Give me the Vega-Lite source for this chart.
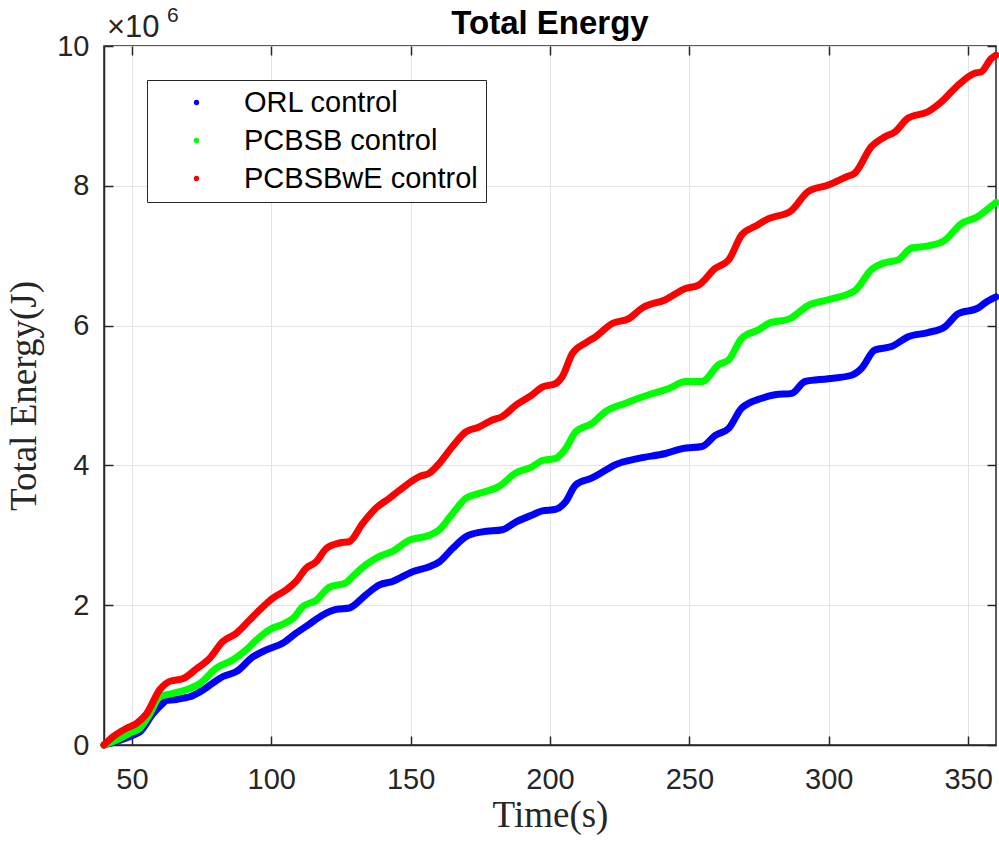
{
  "$schema": "https://vega.github.io/schema/vega-lite/v6.json",
  "autosize": "none",
  "width": 892,
  "height": 699,
  "padding": {"left": 104, "top": 46, "right": 3, "bottom": 96},
  "background": "white",
  "title": {"text": "Total Energy", "font": "Liberation Sans", "fontSize": 33, "fontWeight": "bold", "color": "#000000", "anchor": "middle", "offset": -36},
  "config": {
    "view": {"stroke": "#262626", "strokeWidth": 1.5},
    "axis": {"domainColor": "#262626", "domainWidth": 1.5, "tickColor": "#262626", "tickWidth": 1.5, "gridColor": "#e3e3e3", "gridWidth": 1, "labelFont": "Liberation Sans", "labelFontSize": 29, "labelColor": "#262626", "titleFont": "Liberation Serif", "titleFontSize": 37, "titleFontWeight": "normal", "titleColor": "#262626"}
  },
  "datasets": {
    "energy": [
      {"t": 40, "s": "ORL control", "E": 0}, {"t": 44.5, "s": "ORL control", "E": 0.05}, {"t": 50.5, "s": "ORL control", "E": 0.14}, {"t": 52.9, "s": "ORL control", "E": 0.19}, {"t": 57.6, "s": "ORL control", "E": 0.45}, {"t": 61.2, "s": "ORL control", "E": 0.6}, {"t": 62.4, "s": "ORL control", "E": 0.64}, {"t": 66, "s": "ORL control", "E": 0.65}, {"t": 68.4, "s": "ORL control", "E": 0.67}, {"t": 70.8, "s": "ORL control", "E": 0.69}, {"t": 74.4, "s": "ORL control", "E": 0.76}, {"t": 78.5, "s": "ORL control", "E": 0.87}, {"t": 82.7, "s": "ORL control", "E": 0.98}, {"t": 87.5, "s": "ORL control", "E": 1.05}, {"t": 93.4, "s": "ORL control", "E": 1.26}, {"t": 98.2, "s": "ORL control", "E": 1.36}, {"t": 104.2, "s": "ORL control", "E": 1.46}, {"t": 108.9, "s": "ORL control", "E": 1.6}, {"t": 113.7, "s": "ORL control", "E": 1.73}, {"t": 118.5, "s": "ORL control", "E": 1.86}, {"t": 123.3, "s": "ORL control", "E": 1.94}, {"t": 128, "s": "ORL control", "E": 1.96}, {"t": 134, "s": "ORL control", "E": 2.15}, {"t": 138.8, "s": "ORL control", "E": 2.29}, {"t": 143.5, "s": "ORL control", "E": 2.34}, {"t": 150.7, "s": "ORL control", "E": 2.48}, {"t": 156.7, "s": "ORL control", "E": 2.55}, {"t": 160.3, "s": "ORL control", "E": 2.62}, {"t": 165, "s": "ORL control", "E": 2.81}, {"t": 169.8, "s": "ORL control", "E": 2.98}, {"t": 175.7, "s": "ORL control", "E": 3.05}, {"t": 182.9, "s": "ORL control", "E": 3.08}, {"t": 187.7, "s": "ORL control", "E": 3.19}, {"t": 193.6, "s": "ORL control", "E": 3.29}, {"t": 197.2, "s": "ORL control", "E": 3.35}, {"t": 202, "s": "ORL control", "E": 3.37}, {"t": 205.6, "s": "ORL control", "E": 3.48}, {"t": 209.2, "s": "ORL control", "E": 3.72}, {"t": 215.1, "s": "ORL control", "E": 3.82}, {"t": 219.9, "s": "ORL control", "E": 3.93}, {"t": 223.5, "s": "ORL control", "E": 4.01}, {"t": 231.8, "s": "ORL control", "E": 4.1}, {"t": 241.4, "s": "ORL control", "E": 4.17}, {"t": 247.4, "s": "ORL control", "E": 4.24}, {"t": 254.5, "s": "ORL control", "E": 4.27}, {"t": 259.3, "s": "ORL control", "E": 4.43}, {"t": 264.1, "s": "ORL control", "E": 4.53}, {"t": 268.8, "s": "ORL control", "E": 4.82}, {"t": 276, "s": "ORL control", "E": 4.96}, {"t": 280.7, "s": "ORL control", "E": 5.01}, {"t": 286.7, "s": "ORL control", "E": 5.03}, {"t": 291.5, "s": "ORL control", "E": 5.2}, {"t": 299.8, "s": "ORL control", "E": 5.24}, {"t": 308.2, "s": "ORL control", "E": 5.29}, {"t": 311.8, "s": "ORL control", "E": 5.39}, {"t": 316.5, "s": "ORL control", "E": 5.65}, {"t": 322.5, "s": "ORL control", "E": 5.7}, {"t": 328.5, "s": "ORL control", "E": 5.84}, {"t": 335.6, "s": "ORL control", "E": 5.9}, {"t": 341.6, "s": "ORL control", "E": 5.98}, {"t": 346.4, "s": "ORL control", "E": 6.17}, {"t": 353.5, "s": "ORL control", "E": 6.25}, {"t": 355.9, "s": "ORL control", "E": 6.32}, {"t": 360, "s": "ORL control", "E": 6.41},
      {"t": 40, "s": "PCBSB control", "E": 0}, {"t": 44.5, "s": "PCBSB control", "E": 0.07}, {"t": 49.3, "s": "PCBSB control", "E": 0.17}, {"t": 52.9, "s": "PCBSB control", "E": 0.24}, {"t": 56.5, "s": "PCBSB control", "E": 0.45}, {"t": 60, "s": "PCBSB control", "E": 0.69}, {"t": 64.8, "s": "PCBSB control", "E": 0.74}, {"t": 69.6, "s": "PCBSB control", "E": 0.79}, {"t": 74.4, "s": "PCBSB control", "E": 0.88}, {"t": 80.3, "s": "PCBSB control", "E": 1.1}, {"t": 86.3, "s": "PCBSB control", "E": 1.22}, {"t": 91, "s": "PCBSB control", "E": 1.36}, {"t": 94.6, "s": "PCBSB control", "E": 1.5}, {"t": 99.4, "s": "PCBSB control", "E": 1.65}, {"t": 104.2, "s": "PCBSB control", "E": 1.73}, {"t": 107.8, "s": "PCBSB control", "E": 1.81}, {"t": 111.3, "s": "PCBSB control", "E": 1.98}, {"t": 116.1, "s": "PCBSB control", "E": 2.07}, {"t": 120.9, "s": "PCBSB control", "E": 2.26}, {"t": 126.8, "s": "PCBSB control", "E": 2.32}, {"t": 129.2, "s": "PCBSB control", "E": 2.41}, {"t": 134, "s": "PCBSB control", "E": 2.58}, {"t": 138.8, "s": "PCBSB control", "E": 2.7}, {"t": 143.5, "s": "PCBSB control", "E": 2.77}, {"t": 149.5, "s": "PCBSB control", "E": 2.93}, {"t": 156.7, "s": "PCBSB control", "E": 3.0}, {"t": 160.3, "s": "PCBSB control", "E": 3.08}, {"t": 165, "s": "PCBSB control", "E": 3.31}, {"t": 169.8, "s": "PCBSB control", "E": 3.53}, {"t": 174.6, "s": "PCBSB control", "E": 3.6}, {"t": 181.7, "s": "PCBSB control", "E": 3.7}, {"t": 187.7, "s": "PCBSB control", "E": 3.89}, {"t": 193.6, "s": "PCBSB control", "E": 3.98}, {"t": 197.2, "s": "PCBSB control", "E": 4.07}, {"t": 202, "s": "PCBSB control", "E": 4.1}, {"t": 205.6, "s": "PCBSB control", "E": 4.24}, {"t": 209.2, "s": "PCBSB control", "E": 4.48}, {"t": 215.1, "s": "PCBSB control", "E": 4.6}, {"t": 219.9, "s": "PCBSB control", "E": 4.77}, {"t": 227.1, "s": "PCBSB control", "E": 4.89}, {"t": 235.4, "s": "PCBSB control", "E": 5.01}, {"t": 242.6, "s": "PCBSB control", "E": 5.1}, {"t": 248.6, "s": "PCBSB control", "E": 5.2}, {"t": 254.5, "s": "PCBSB control", "E": 5.2}, {"t": 260.5, "s": "PCBSB control", "E": 5.44}, {"t": 264.1, "s": "PCBSB control", "E": 5.51}, {"t": 268.8, "s": "PCBSB control", "E": 5.82}, {"t": 274.8, "s": "PCBSB control", "E": 5.94}, {"t": 278.4, "s": "PCBSB control", "E": 6.03}, {"t": 286.1, "s": "PCBSB control", "E": 6.1}, {"t": 292.7, "s": "PCBSB control", "E": 6.29}, {"t": 299.8, "s": "PCBSB control", "E": 6.37}, {"t": 309.4, "s": "PCBSB control", "E": 6.5}, {"t": 315.3, "s": "PCBSB control", "E": 6.8}, {"t": 320.1, "s": "PCBSB control", "E": 6.9}, {"t": 324.9, "s": "PCBSB control", "E": 6.94}, {"t": 329.7, "s": "PCBSB control", "E": 7.11}, {"t": 335.6, "s": "PCBSB control", "E": 7.14}, {"t": 341.6, "s": "PCBSB control", "E": 7.22}, {"t": 347.6, "s": "PCBSB control", "E": 7.46}, {"t": 353.5, "s": "PCBSB control", "E": 7.56}, {"t": 355.9, "s": "PCBSB control", "E": 7.63}, {"t": 360, "s": "PCBSB control", "E": 7.76},
      {"t": 40, "s": "PCBSBwE control", "E": 0}, {"t": 43.3, "s": "PCBSBwE control", "E": 0.12}, {"t": 48.1, "s": "PCBSBwE control", "E": 0.24}, {"t": 51.7, "s": "PCBSBwE control", "E": 0.31}, {"t": 55.3, "s": "PCBSBwE control", "E": 0.45}, {"t": 60, "s": "PCBSBwE control", "E": 0.79}, {"t": 63.6, "s": "PCBSBwE control", "E": 0.91}, {"t": 68.4, "s": "PCBSBwE control", "E": 0.95}, {"t": 73.2, "s": "PCBSBwE control", "E": 1.09}, {"t": 77.9, "s": "PCBSBwE control", "E": 1.24}, {"t": 82.6, "s": "PCBSBwE control", "E": 1.48}, {"t": 87.5, "s": "PCBSBwE control", "E": 1.6}, {"t": 92.3, "s": "PCBSBwE control", "E": 1.79}, {"t": 95.8, "s": "PCBSBwE control", "E": 1.93}, {"t": 100.5, "s": "PCBSBwE control", "E": 2.1}, {"t": 105.4, "s": "PCBSBwE control", "E": 2.22}, {"t": 108.9, "s": "PCBSBwE control", "E": 2.34}, {"t": 112.5, "s": "PCBSBwE control", "E": 2.53}, {"t": 116.1, "s": "PCBSBwE control", "E": 2.62}, {"t": 119.7, "s": "PCBSBwE control", "E": 2.81}, {"t": 124.5, "s": "PCBSBwE control", "E": 2.89}, {"t": 128, "s": "PCBSBwE control", "E": 2.91}, {"t": 132.8, "s": "PCBSBwE control", "E": 3.17}, {"t": 137.6, "s": "PCBSBwE control", "E": 3.39}, {"t": 142.4, "s": "PCBSBwE control", "E": 3.53}, {"t": 145.9, "s": "PCBSBwE control", "E": 3.64}, {"t": 153.1, "s": "PCBSBwE control", "E": 3.84}, {"t": 156.7, "s": "PCBSBwE control", "E": 3.89}, {"t": 160.3, "s": "PCBSBwE control", "E": 4.03}, {"t": 165, "s": "PCBSBwE control", "E": 4.27}, {"t": 169.8, "s": "PCBSBwE control", "E": 4.48}, {"t": 174.6, "s": "PCBSBwE control", "E": 4.55}, {"t": 179.3, "s": "PCBSBwE control", "E": 4.65}, {"t": 182.9, "s": "PCBSBwE control", "E": 4.7}, {"t": 187.7, "s": "PCBSBwE control", "E": 4.86}, {"t": 193.6, "s": "PCBSBwE control", "E": 5.01}, {"t": 197.2, "s": "PCBSBwE control", "E": 5.12}, {"t": 202, "s": "PCBSBwE control", "E": 5.17}, {"t": 204.4, "s": "PCBSBwE control", "E": 5.27}, {"t": 208, "s": "PCBSBwE control", "E": 5.6}, {"t": 212.7, "s": "PCBSBwE control", "E": 5.75}, {"t": 216.3, "s": "PCBSBwE control", "E": 5.84}, {"t": 222.3, "s": "PCBSBwE control", "E": 6.03}, {"t": 228.3, "s": "PCBSBwE control", "E": 6.1}, {"t": 233, "s": "PCBSBwE control", "E": 6.25}, {"t": 241.4, "s": "PCBSBwE control", "E": 6.37}, {"t": 248.6, "s": "PCBSBwE control", "E": 6.53}, {"t": 253.3, "s": "PCBSBwE control", "E": 6.58}, {"t": 259.3, "s": "PCBSBwE control", "E": 6.82}, {"t": 264.1, "s": "PCBSBwE control", "E": 6.94}, {"t": 268.8, "s": "PCBSBwE control", "E": 7.3}, {"t": 273.6, "s": "PCBSBwE control", "E": 7.42}, {"t": 278.4, "s": "PCBSBwE control", "E": 7.53}, {"t": 286.1, "s": "PCBSBwE control", "E": 7.63}, {"t": 292.7, "s": "PCBSBwE control", "E": 7.92}, {"t": 299.8, "s": "PCBSBwE control", "E": 8.01}, {"t": 306.4, "s": "PCBSBwE control", "E": 8.13}, {"t": 309.3, "s": "PCBSBwE control", "E": 8.18}, {"t": 315.3, "s": "PCBSBwE control", "E": 8.56}, {"t": 320.1, "s": "PCBSBwE control", "E": 8.7}, {"t": 323.7, "s": "PCBSBwE control", "E": 8.77}, {"t": 328.5, "s": "PCBSBwE control", "E": 8.97}, {"t": 335.6, "s": "PCBSBwE control", "E": 9.06}, {"t": 340.4, "s": "PCBSBwE control", "E": 9.2}, {"t": 346.4, "s": "PCBSBwE control", "E": 9.44}, {"t": 352.3, "s": "PCBSBwE control", "E": 9.61}, {"t": 354.7, "s": "PCBSBwE control", "E": 9.63}, {"t": 358.3, "s": "PCBSBwE control", "E": 9.82}, {"t": 360, "s": "PCBSBwE control", "E": 9.87}
    ],
    "exponent": [{"t": 40, "E": 10, "base": "×10", "pow": "6"}]
  },
  "layer": [
    {
      "data": {"name": "energy"},
      "mark": {"type": "line", "strokeWidth": 7, "strokeCap": "round", "strokeJoin": "round", "interpolate": "monotone"},
      "encoding": {
        "x": {"field": "t", "type": "quantitative", "scale": {"domain": [40, 360], "nice": false, "zero": false},
              "axis": {"title": "Time(s)", "values": [50, 100, 150, 200, 250, 300, 350], "grid": true, "tickSize": -9, "labelPadding": 29, "titlePadding": 3, "domain": true}},
        "y": {"field": "E", "type": "quantitative", "scale": {"domain": [0, 10], "nice": false},
              "axis": {"title": "Total Energy(J)", "values": [0, 2, 4, 6, 8, 10], "grid": true, "tickSize": -9, "labelPadding": 24, "titlePadding": 13}},
        "color": {"field": "s", "type": "nominal", "scale": {"domain": ["ORL control", "PCBSB control", "PCBSBwE control"], "range": ["#0000ff", "#00ff00", "#ff0000"]},
                  "legend": {"title": null, "orient": "none", "legendX": 43, "legendY": 34, "strokeColor": "#262626", "fillColor": "#ffffff", "padding": 8, "symbolType": "circle", "symbolSize": 28, "symbolOffset": 27, "labelOffset": 33, "labelLimit": 0, "labelFont": "Liberation Sans", "labelFontSize": 29, "labelColor": "#000000", "rowPadding": 8,
                             "encode": {"symbols": {"update": {"fill": {"scale": "color", "field": "value"}, "strokeWidth": {"value": 0}}}}}}
      }
    },
    {
      "data": {"name": "energy"},
      "mark": {"type": "line", "opacity": 0},
      "encoding": {
        "x": {"field": "t", "type": "quantitative", "axis": {"orient": "top", "title": null, "labels": false, "grid": false, "domain": false, "values": [50, 100, 150, 200, 250, 300, 350], "tickSize": -9}},
        "y": {"field": "E", "type": "quantitative", "axis": {"orient": "right", "title": null, "labels": false, "grid": false, "domain": false, "values": [0, 2, 4, 6, 8, 10], "tickSize": -9}},
        "detail": {"field": "s"}
      }
    },
    {
      "data": {"name": "exponent"},
      "mark": {"type": "text", "font": "Liberation Sans", "fontSize": 31, "color": "#262626", "align": "left", "baseline": "alphabetic", "dx": 3, "dy": -9},
      "encoding": {"x": {"field": "t", "type": "quantitative", "axis": null}, "y": {"field": "E", "type": "quantitative", "axis": null}, "text": {"field": "base"}}
    },
    {
      "data": {"name": "exponent"},
      "mark": {"type": "text", "font": "Liberation Sans", "fontSize": 21, "color": "#262626", "align": "left", "baseline": "alphabetic", "dx": 63, "dy": -24},
      "encoding": {"x": {"field": "t", "type": "quantitative", "axis": null}, "y": {"field": "E", "type": "quantitative", "axis": null}, "text": {"field": "pow"}}
    }
  ],
  "resolve": {"axis": {"x": "independent", "y": "independent"}}
}
